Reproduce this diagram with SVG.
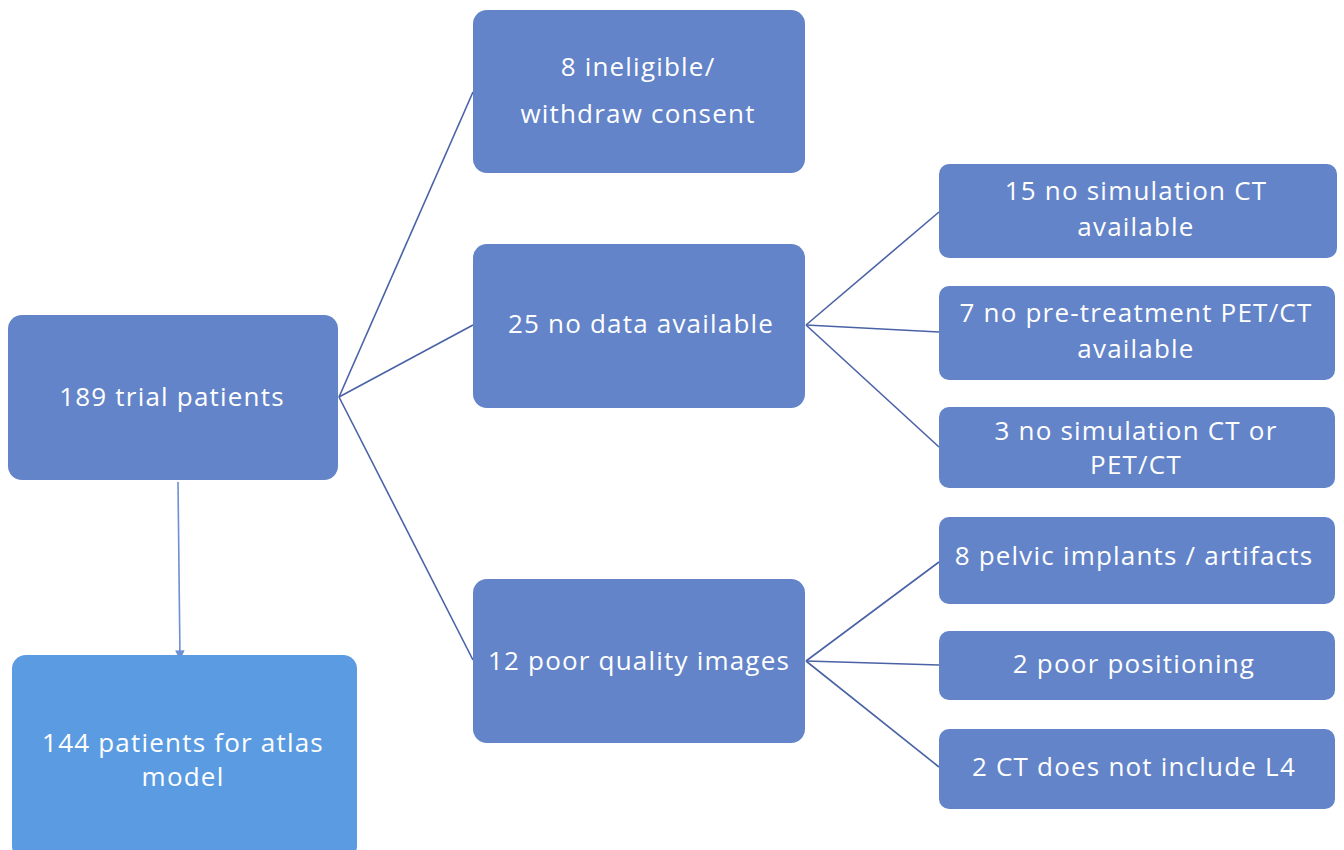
<svg xmlns="http://www.w3.org/2000/svg" width="1344" height="850" viewBox="0 0 1344 850">
<defs>
<style>
.box{fill:#6384C8;}
.box2{fill:#5B9BE2;}
.t{font-family:"Open Sans","Liberation Sans",sans-serif;font-size:26px;letter-spacing:1.2px;fill:#ffffff;text-anchor:middle;}
.c{stroke:#4A62A6;stroke-width:1.6;fill:none;}
.v{stroke:#6D8FD4;stroke-width:1.6;fill:none;}
</style>
<marker id="ah" viewBox="0 0 10 10" refX="9" refY="5" markerWidth="6" markerHeight="6" orient="auto"><path d="M0,0 L10,5 L0,10 z" fill="#6D8FD4"/></marker>
</defs>
<rect width="1344" height="850" fill="#ffffff"/>
<g id="connectors">
<path class="c" d="M339,397 L473,92"/>
<path class="c" d="M339,397 L473,325"/>
<path class="c" d="M339,397 L473,660"/>
<path class="c" d="M806,325 L939,212"/>
<path class="c" d="M806,325 L939,332"/>
<path class="c" d="M806,325 L939,447"/>
<path class="c" d="M806,661 L939,562"/>
<path class="c" d="M806,661 L939,665"/>
<path class="c" d="M806,661 L939,767"/>
<path class="v" d="M178,482 L180,659" marker-end="url(#ah)"/>
</g>
<g id="n189"><rect class="box" x="8" y="315" width="330" height="165" rx="14"/><text class="t" x="172" y="406">189 trial patients</text></g>
<g id="n144"><rect class="box2" x="12" y="655" width="345" height="205" rx="14"/><text class="t" x="183" y="752">144 patients for atlas</text><text class="t" x="183" y="786">model</text></g>
<g id="n8"><rect class="box" x="473" y="10" width="332" height="163" rx="14"/><text class="t" x="638" y="76">8 ineligible/</text><text class="t" x="638" y="123">withdraw consent</text></g>
<g id="n25"><rect class="box" x="473" y="244" width="332" height="164" rx="14"/><text class="t" x="641" y="333">25 no data available</text></g>
<g id="n12"><rect class="box" x="473" y="579" width="332" height="164" rx="14"/><text class="t" x="639" y="670">12 poor quality images</text></g>
<g id="r15"><rect class="box" x="939" y="164" width="398" height="94" rx="10"/><text class="t" x="1136" y="200">15 no simulation CT</text><text class="t" x="1136" y="236">available</text></g>
<g id="r7"><rect class="box" x="939" y="286" width="396" height="94" rx="10"/><text class="t" x="1136" y="322">7 no pre-treatment PET/CT</text><text class="t" x="1136" y="358">available</text></g>
<g id="r3"><rect class="box" x="939" y="407" width="396" height="81" rx="10"/><text class="t" x="1136" y="440">3 no simulation CT or</text><text class="t" x="1136" y="474">PET/CT</text></g>
<g id="r8"><rect class="box" x="939" y="517" width="396" height="87" rx="10"/><text class="t" x="1134" y="565">8 pelvic implants / artifacts</text></g>
<g id="r2p"><rect class="box" x="939" y="631" width="396" height="69" rx="10"/><text class="t" x="1134" y="673">2 poor positioning</text></g>
<g id="r2c"><rect class="box" x="939" y="729" width="396" height="80" rx="10"/><text class="t" x="1134" y="776">2 CT does not include L4</text></g>
</svg>
